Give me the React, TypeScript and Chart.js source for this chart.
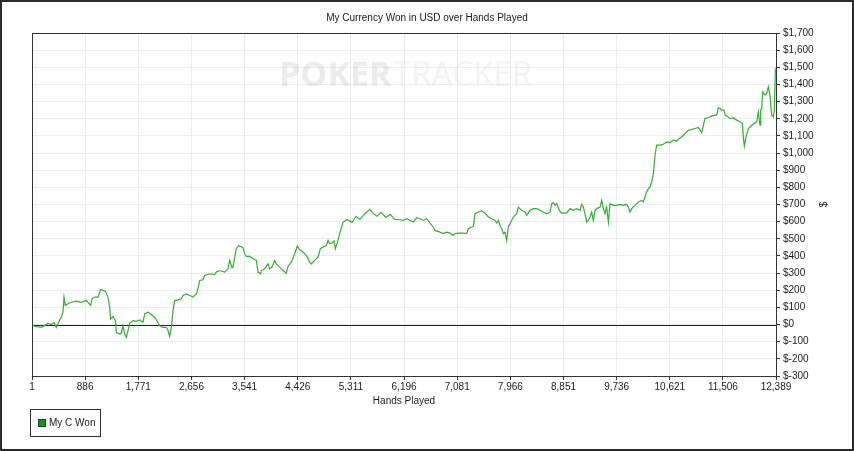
import { useEffect, useRef } from "react";
import { Chart, registerables } from "chart.js";

Chart.register(...registerables);

const TITLE = "My Currency Won in USD over Hands Played";
const X_TITLE = "Hands Played";
const Y_TITLE = "$";
const SERIES_LABEL = "My C Won";

const handsPlayed = [
  1, 45, 156, 211, 267, 323, 367, 406, 434, 462, 489, 517, 534, 556, 600, 656, 739, 822, 906, 978,
  1000, 1045, 1100, 1144, 1183, 1222, 1266, 1294, 1311, 1350, 1389, 1405, 1461, 1488, 1516, 1544, 1572, 1600, 1627, 1683,
  1738, 1794, 1849, 1877, 1933, 1977, 2044, 2127, 2182, 2238, 2266, 2293, 2321, 2349, 2377, 2432, 2488, 2515, 2571, 2626,
  2682, 2737, 2765, 2793, 2848, 2876, 2959, 3043, 3070, 3126, 3209, 3265, 3292, 3331, 3348, 3376, 3404, 3442, 3515, 3542,
  3570, 3626, 3681, 3736, 3764, 3809, 3820, 3875, 3931, 3959, 3997, 4042, 4069, 4125, 4181, 4236, 4264, 4319, 4375, 4419,
  4458, 4514, 4569, 4625, 4652, 4708, 4763, 4802, 4846, 4902, 4930, 4957, 4996, 5030, 5052, 5069, 5096, 5124, 5180, 5246,
  5329, 5396, 5463, 5546, 5629, 5679, 5746, 5812, 5850, 5896, 5962, 6010, 6045, 6128, 6184, 6240, 6295, 6351, 6406, 6462,
  6517, 6573, 6628, 6684, 6710, 6795, 6850, 6906, 6961, 7017, 7044, 7100, 7183, 7239, 7266, 7322, 7350, 7377, 7433, 7488,
  7544, 7599, 7655, 7710, 7738, 7766, 7794, 7821, 7849, 7877, 7905, 7932, 7960, 8016, 8071, 8099, 8155, 8210, 8238, 8293,
  8349, 8404, 8460, 8515, 8571, 8626, 8654, 8682, 8710, 8737, 8782, 8820, 8904, 8959, 9015, 9070, 9126, 9153, 9181, 9209,
  9237, 9265, 9292, 9320, 9348, 9376, 9403, 9459, 9487, 9514, 9542, 9570, 9598, 9625, 9681, 9736, 9792, 9847, 9903, 9931,
  9958, 9986, 10042, 10097, 10153, 10180, 10208, 10236, 10264, 10291, 10319, 10347, 10375, 10402, 10458, 10513, 10569, 10624, 10680, 10735,
  10763, 10819, 10874, 10930, 10985, 11041, 11096, 11152, 11179, 11207, 11263, 11318, 11374, 11401, 11429, 11457, 11485, 11523, 11540, 11596,
  11623, 11679, 11734, 11790, 11829, 11845, 11862, 11890, 11929, 11984, 12068, 12095, 12123, 12134, 12151, 12168, 12206, 12234, 12262, 12289,
  12317, 12345, 12362, 12378, 12389,
];

const currencyWon = [
  0, -10, -16, -6, 8, 0, 12, -16, 4, 27, 43, 72, 160, 111, 121, 130, 136, 130, 140, 111,
  150, 160, 160, 204, 199, 195, 160, 101, 33, 47, 23, -45, -55, -50, -6, -55, -74, -35, 8, 23,
  19, 27, 14, 62, 72, 62, 43, -6, -16, -16, -35, -70, -16, 82, 140, 144, 150, 169, 179, 169,
  160, 179, 208, 257, 261, 286, 296, 292, 306, 315, 306, 325, 374, 331, 335, 393, 442, 461, 448, 413,
  397, 397, 384, 374, 306, 296, 315, 325, 354, 325, 335, 374, 354, 335, 315, 300, 339, 364, 413, 458,
  436, 423, 403, 364, 354, 374, 393, 442, 452, 461, 491, 471, 475, 487, 442, 461, 491, 530, 596, 613,
  596, 631, 613, 648, 672, 648, 631, 654, 640, 625, 643, 625, 613, 611, 607, 617, 607, 598, 623, 617,
  607, 617, 592, 569, 549, 539, 530, 539, 533, 520, 530, 533, 533, 530, 559, 569, 572, 646, 656, 662,
  650, 627, 617, 607, 592, 607, 578, 559, 530, 539, 491, 569, 588, 627, 646, 685, 666, 656, 637, 666,
  676, 676, 666, 656, 646, 656, 705, 711, 695, 705, 666, 650, 650, 676, 666, 676, 666, 701, 685, 646,
  598, 607, 627, 656, 607, 666, 676, 685, 724, 676, 646, 685, 598, 705, 695, 695, 701, 695, 701, 685,
  656, 676, 695, 715, 724, 715, 744, 773, 792, 802, 831, 880, 987, 1046, 1046, 1051, 1065, 1061, 1075, 1069,
  1081, 1094, 1114, 1133, 1137, 1143, 1149, 1118, 1162, 1201, 1207, 1215, 1221, 1221, 1264, 1260, 1250, 1250, 1221, 1211,
  1201, 1205, 1192, 1182, 1172, 1094, 1040, 1094, 1143, 1162, 1182, 1240, 1162, 1250, 1260, 1357, 1338, 1347, 1386, 1338,
  1221, 1211, 1250, 1484, 1470,
];

const xTickValues = [1, 886, 1771, 2656, 3541, 4426, 5311, 6196, 7081, 7966, 8851, 9736, 10621, 11506, 12389];
const yMin = -300;
const yMax = 1700;
const yStep = 100;

const FONT = '"Liberation Sans", Arial, sans-serif';
const TEXT = "#1a1a1a";
const FRAME = "#333333";
const GRID = "#ececec";
const LINE_GREEN = "#33ad33";
const LEGEND_GREEN = "#139a13";

export default function App() {
  const ref = useRef<HTMLCanvasElement>(null);

  useEffect(() => {
    const canvas = ref.current;
    if (!canvas) return;

    const decor = {
      id: "decor",
      beforeDatasetsDraw(chart: any) {
        const ctx = chart.ctx as CanvasRenderingContext2D;
        const a = chart.chartArea;
        ctx.save();
        // watermark
        ctx.textBaseline = "alphabetic";
        ctx.textAlign = "left";
        ctx.fillStyle = "rgba(205,205,205,0.38)";
        ctx.font = `bold 34px "Open Sans", ${FONT}`;
        ctx.fillText("POKER", 279, 86, 113);
        ctx.fillStyle = "rgba(220,220,220,0.3)";
        ctx.font = `34px "Open Sans", ${FONT}`;
        ctx.fillText("TRACKER", 393, 86, 139);
        // zero line
        const y0 = Math.round(chart.scales.y.getPixelForValue(0)) + 0.5;
        ctx.strokeStyle = "#222";
        ctx.lineWidth = 1;
        ctx.beginPath();
        ctx.moveTo(a.left, y0);
        ctx.lineTo(a.right, y0);
        ctx.stroke();
        ctx.restore();
      },
      afterDraw(chart: any) {
        const ctx = chart.ctx as CanvasRenderingContext2D;
        const a = chart.chartArea;
        ctx.save();
        // plot frame
        ctx.strokeStyle = FRAME;
        ctx.lineWidth = 1;
        ctx.strokeRect(Math.round(a.left) + 0.5, Math.round(a.top) + 0.5, Math.round(a.right - a.left), Math.round(a.bottom - a.top));
        // outer frame
        ctx.lineWidth = 2;
        ctx.strokeStyle = "#2a2a2a";
        ctx.strokeRect(1, 1, chart.width - 2, chart.height - 2);
        // title
        ctx.fillStyle = TEXT;
        ctx.font = `10px ${FONT}`;
        ctx.textAlign = "center";
        ctx.textBaseline = "middle";
        ctx.fillText(TITLE, chart.width / 2, 18);
        // x axis title
        ctx.fillText(X_TITLE, (a.left + a.right) / 2, 401);
        // y axis title
        ctx.save();
        ctx.translate(824, (a.top + a.bottom) / 2);
        ctx.rotate(-Math.PI / 2);
        ctx.fillText(Y_TITLE, 0, 0);
        ctx.restore();
        // legend
        ctx.lineWidth = 1;
        ctx.strokeStyle = FRAME;
        ctx.strokeRect(30.5, 409.5, 70, 27);
        ctx.fillStyle = LEGEND_GREEN;
        ctx.fillRect(38, 419, 7, 7);
        ctx.strokeRect(38.5, 419.5, 7, 7);
        ctx.fillStyle = TEXT;
        ctx.textAlign = "left";
        ctx.fillText(SERIES_LABEL, 49, 423.5);
        ctx.restore();
      },
    };

    const chart = new Chart(canvas, {
      type: "line",
      data: {
        datasets: [
          {
            label: SERIES_LABEL,
            data: handsPlayed.map((h, i) => ({ x: h, y: currencyWon[i] })),
            borderColor: LINE_GREEN,
            backgroundColor: LINE_GREEN,
            borderWidth: 1.2,
            pointRadius: 0,
            tension: 0,
            fill: false,
          },
        ],
      },
      options: {
        responsive: false,
        animation: false,
        devicePixelRatio: 1,
        layout: { padding: { left: 32, top: 33, right: 0, bottom: 0 } },
        plugins: {
          legend: { display: false },
          title: { display: false },
          tooltip: { enabled: false },
        },
        scales: {
          x: {
            type: "linear",
            min: 1,
            max: 12389,
            afterBuildTicks: (s: any) => {
              s.ticks = xTickValues.map((v) => ({ value: v }));
            },
            afterFit: (s: any) => {
              s.height = 75;
            },
            ticks: {
              autoSkip: false,
              maxRotation: 0,
              padding: 1,
              color: TEXT,
              font: { family: FONT, size: 10 },
              callback: (v: any) => Number(v).toLocaleString("en-US"),
            },
            grid: { color: GRID, tickColor: FRAME, tickLength: 4 },
            border: { display: true, color: FRAME },
          },
          y: {
            type: "linear",
            position: "right",
            min: yMin,
            max: yMax,
            afterFit: (s: any) => {
              s.width = 78;
            },
            ticks: {
              stepSize: yStep,
              autoSkip: false,
              padding: 3,
              color: TEXT,
              font: { family: FONT, size: 10 },
              callback: (v: any) => "$" + Number(v).toLocaleString("en-US"),
            },
            grid: { color: GRID, tickColor: FRAME, tickLength: 4 },
            border: { display: true, color: FRAME },
          },
        },
      },
      plugins: [decor],
    } as any);

    return () => chart.destroy();
  }, []);

  return (
    <div style={{ position: "absolute", left: 0, top: 0, width: 854, height: 451, background: "#fff" }}>
      <canvas ref={ref} width={854} height={451} style={{ display: "block", width: 854, height: 451 }} />
    </div>
  );
}
